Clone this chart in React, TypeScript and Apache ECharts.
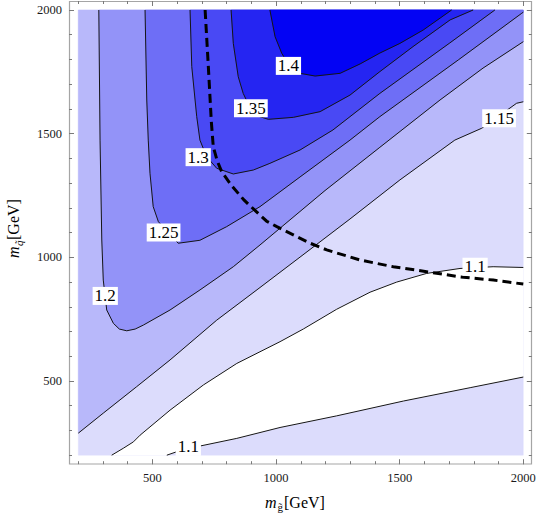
import React, { useEffect, useRef } from 'react';
import * as echarts from 'echarts';

const SERIF = "'Liberation Serif', 'Times New Roman', serif";

// axis ranges and ticks
const axisMin = 200;
const axisMax = 2000;
const majorTicks = [500, 1000, 1500, 2000];
const minorTicks = [200, 300, 400, 500, 600, 700, 800, 900, 1000, 1100, 1200, 1300, 1400, 1500, 1600, 1700, 1800, 1900, 2000];

// contour levels and shading (index 0: < 1.1, then 1.1-1.15, ... , > 1.4)
const levels = [1.1, 1.15, 1.2, 1.25, 1.3, 1.35, 1.4];
const levelColors = ['#ffffff', '#dcdcfc', '#b8b8fa', '#9393f8', '#6e6ef6', '#4949f4', '#2525f2', '#0303f4'];

// contour lines [m_gluino, m_squark]
const contour110Upper = [[335, 200], [382, 228], [423, 254], [450, 281], [571, 382], [706, 484], [841, 571], [1016, 659], [1110, 710], [1245, 790], [1380, 859], [1488, 900], [1609, 935], [1744, 955], [1878, 962], [2000, 959]];
const contour110Lower = [[558, 200], [598, 214], [692, 237], [841, 268], [1016, 312], [1245, 359], [1515, 419], [1785, 473], [2000, 516]];
const contour115 = [[200, 289], [301, 370], [436, 477], [571, 585], [760, 746], [935, 878], [1097, 1001], [1299, 1155], [1501, 1313], [1723, 1474], [1832, 1522], [1973, 1623], [2000, 1629]];
const contour120 = [[283, 2000], [288, 1474], [295, 1070], [301, 908], [315, 787], [342, 733], [366, 710], [396, 703], [430, 710], [463, 726], [571, 787], [692, 868], [827, 962], [935, 1050], [1198, 1270], [1420, 1445], [1663, 1636], [1837, 1765], [2000, 1872]];
const contour125 = [[470, 2000], [477, 1636], [483, 1474], [490, 1340], [503, 1205], [524, 1144], [604, 1057], [692, 1069], [800, 1124], [935, 1205], [1097, 1325], [1299, 1474], [1420, 1569], [1737, 1798], [1994, 1987], [2000, 1991]];
const contour130 = [[652, 2000], [659, 1771], [679, 1569], [692, 1474], [719, 1407], [760, 1360], [827, 1337], [908, 1353], [975, 1380], [1097, 1434], [1230, 1515], [1420, 1663], [1703, 1867], [1885, 2000]];
const contour135 = [[818, 2000], [827, 1865], [847, 1730], [867, 1663], [895, 1604], [930, 1570], [969, 1558], [1070, 1566], [1178, 1589], [1299, 1656], [1420, 1751], [1554, 1852], [1704, 1960], [1797, 2000]];
const contour140 = [[975, 2000], [996, 1892], [1023, 1825], [1056, 1771], [1097, 1744], [1158, 1733], [1259, 1744], [1340, 1782], [1420, 1826], [1501, 1865], [1595, 1919], [1710, 2000]];

// dashed exclusion curve
const dashedCurve = [[713, 2000], [726, 1771], [738, 1550], [746, 1447], [762, 1390], [780, 1346], [820, 1290], [870, 1232], [920, 1185], [962, 1146], [1003, 1124], [1138, 1057], [1205, 1030], [1340, 989], [1474, 962], [1609, 942], [1744, 921], [1879, 908], [2000, 892]];

// contour labels
const labelTexts = ['1.4', '1.35', '1.3', '1.25', '1.2', '1.15', '1.1', '1.1'];
const labelX = [1050, 898, 685, 545, 309, 1902, 1805, 645];
const labelY = [1774, 1603, 1405, 1100, 844, 1562, 962, 234];

const renderContours = (_params: any, api: any) => {
  const c = (p: number[]) => api.coord(p);
  const poly = (pts: number[][], fill: string) => ({
    type: 'polygon',
    shape: { points: pts.map(c) },
    style: { fill, stroke: fill, lineWidth: 0.4 },
  });
  const line = (pts: number[][]) => ({
    type: 'polyline',
    shape: { points: pts.map(c) },
    style: { stroke: '#151515', lineWidth: 1, fill: 'none' },
  });
  const children: any[] = [];
  // base: 1.1 - 1.15 everywhere
  children.push(poly([[axisMin, axisMin], [axisMax, axisMin], [axisMax, axisMax], [axisMin, axisMax]], levelColors[1]));
  // < 1.1 region
  children.push(poly([...contour110Upper, ...contour110Lower.slice().reverse()], levelColors[0]));
  // >= 1.15 and higher
  children.push(poly([...contour115, [axisMax, axisMax], [axisMin, axisMax]], levelColors[2]));
  children.push(poly([...contour120, [axisMax, axisMax]], levelColors[3]));
  children.push(poly([...contour125, [axisMax, axisMax]], levelColors[4]));
  children.push(poly(contour130, levelColors[5]));
  children.push(poly(contour135, levelColors[6]));
  children.push(poly(contour140, levelColors[7]));
  [contour110Upper, contour110Lower, contour115, contour120, contour125, contour130, contour135, contour140].forEach((p) => children.push(line(p)));
  children.push({
    type: 'polyline',
    shape: { points: dashedCurve.map(c) },
    style: { stroke: '#000', lineWidth: 3, fill: 'none', lineDash: [9, 5] },
  });
  labelTexts.forEach((t, i) => {
    const [px, py] = c([labelX[i], labelY[i]]);
    children.push({
      type: 'text',
      x: px,
      y: py,
      style: {
        text: t,
        fontSize: 17,
        fontFamily: SERIF,
        fill: '#000',
        align: 'center',
        verticalAlign: 'middle',
        backgroundColor: '#fff',
        padding: [1, 2, 0, 2],
      },
    });
  });
  return { type: 'group', children };
};

const TICK_COLOR = '#7a7a7a';

const mkAxis = (position: string, offset: number, ticks: number[], len: number, withLabels: boolean) => ({
  type: 'value',
  gridIndex: 0,
  min: axisMin,
  max: axisMax,
  position,
  offset,
  axisLine: { show: false },
  splitLine: { show: false },
  axisTick: { show: true, inside: true, length: len, customValues: ticks, lineStyle: { color: TICK_COLOR, width: 1 } },
  axisLabel: withLabels
    ? {
        show: true,
        customValues: majorTicks,
        margin: 7,
        fontFamily: SERIF,
        fontSize: 12.5,
        color: '#1a1a1a',
        formatter: (v: number) => String(v),
      }
    : { show: false },
});

const txt = (text: string, x: number, y: number, size: number, italic: boolean) => ({
  type: 'text',
  x,
  y,
  style: {
    text,
    fontSize: size,
    fontFamily: SERIF,
    fontStyle: italic ? 'italic' : 'normal',
    fill: '#000',
    align: 'left',
    verticalAlign: 'middle',
  },
});

const option: any = {
  animation: false,
  backgroundColor: '#ffffff',
  grid: { left: 78.3, top: 10, right: 16.7, bottom: 66.8, containLabel: false, outerBoundsMode: 'none' },
  xAxis: [
    mkAxis('bottom', 9, majorTicks, 5, true),
    mkAxis('bottom', 9, minorTicks, 3, false),
    mkAxis('top', 9, majorTicks, 5, false),
    mkAxis('top', 9, minorTicks, 3, false),
  ],
  yAxis: [
    mkAxis('left', 9.3, majorTicks, 5, true),
    mkAxis('left', 9.3, minorTicks, 3, false),
    mkAxis('right', 8.5, majorTicks, 5, false),
    mkAxis('right', 8.5, minorTicks, 3, false),
  ],
  graphic: [
    { type: 'rect', shape: { x: 69.5, y: 1.5, width: 462, height: 462.5 }, style: { fill: 'none', stroke: '#a5a5a5', lineWidth: 1.2 }, silent: true },
    txt('m', 265, 502, 16, true),
    txt('g\u0303', 277.5, 507, 11, false),
    txt('[GeV]', 284, 502, 16, false),
    {
      type: 'group',
      x: 13.5,
      y: 228,
      rotation: Math.PI / 2,
      children: [txt('m', -30, 0, 16, true), txt('q\u0303', -18, 5, 11, true), txt('[GeV]', -12, 0, 16, false)],
    },
  ],
  series: [
    {
      type: 'custom',
      xAxisIndex: 0,
      yAxisIndex: 0,
      renderItem: renderContours,
      data: [[axisMin, axisMin]],
      encode: { x: 0, y: 1 },
      silent: true,
      z: 2,
    },
  ],
};

export default function App() {
  const ref = useRef<HTMLDivElement>(null);
  useEffect(() => {
    const chart = echarts.init(ref.current as HTMLDivElement, null, { renderer: 'svg' });
    chart.setOption(option);
    return () => chart.dispose();
  }, []);
  return <div ref={ref} style={{ position: 'absolute', left: 0, top: 0, width: 540, height: 522, background: '#fff' }} />;
}
